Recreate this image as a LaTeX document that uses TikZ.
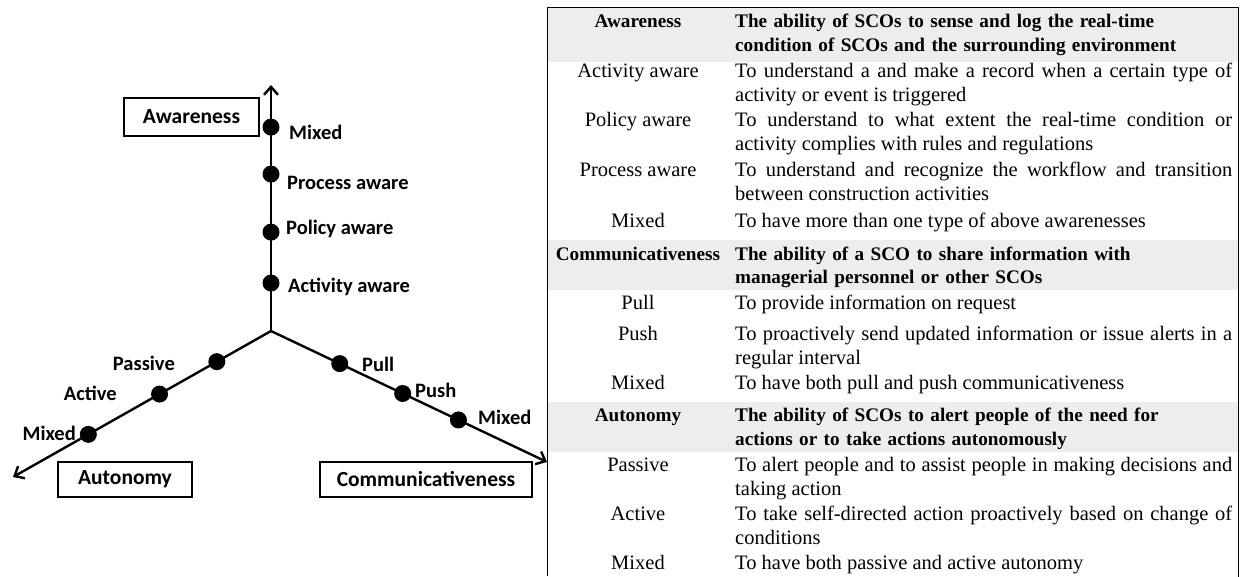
\documentclass[tikz,border=0pt]{standalone}
\usepackage{fontspec}
\setmainfont{Liberation Serif}
\newfontfamily\calib{Carlito}
\usepackage{tikz}
\usetikzlibrary{arrows.meta}
\usetikzlibrary{calc}
\colorlet{hdgray}{black!7}
\newcommand\tabfont{\fontsize{20.5}{24}\selectfont}
\newcommand\hdfont{\fontsize{19.2}{24}\selectfont\bfseries}
\tikzstyle{axis}=[line width=2.4pt,-{Straight Barb[length=8pt,width=14pt]}]
\tikzstyle{dot}=[circle,fill=black,minimum size=17pt,inner sep=0pt]
\tikzstyle{lbl}=[font=\calib\bfseries\fontsize{20.5}{22}\selectfont,inner sep=0pt]
\tikzstyle{catbox}=[draw,line width=1.2pt,inner sep=0pt,font=\calib\bfseries\fontsize{21.5}{22}\selectfont]
\tikzstyle{kind}=[inner sep=0pt,anchor=base,font=\tabfont]
\tikzstyle{kindhd}=[kind,font=\hdfont]
\tikzstyle{desc}=[inner sep=0pt,anchor=base west,text width=497pt,align=justify,font=\tabfont]
\tikzstyle{deschd}=[desc,align=left,font=\hdfont]
\begin{document}
\begin{tikzpicture}[x=1pt,y=-1pt]
	\useasboundingbox (0,0) rectangle (1241,577);
	% the three axes
	\coordinate (o)  at (271,331);
	\coordinate (aw) at (271,85);
	\coordinate (au) at (13,477);
	\coordinate (co) at (547,462);
	\draw[axis] (o) -- (aw);
	\draw[axis] (o) -- (au);
	\draw[axis] (o) -- (co);
	\node[catbox,minimum width=135pt,minimum height=38pt] (awbox) at (191.5,117) {Awareness};
	\node[catbox,minimum width=134pt,minimum height=35pt] (aubox) at (125,479.5) {Autonomy};
	\node[catbox,minimum width=212pt,minimum height=35pt] (cobox) at (426,479.5) {Communicativeness};
	% awareness levels
	\node[dot] (aw1) at ($(o)!0.195!(aw)$) {};
	\node[dot] (aw2) at ($(o)!0.402!(aw)$) {};
	\node[dot] (aw3) at ($(o)!0.638!(aw)$) {};
	\node[dot] (aw4) at ($(o)!0.829!(aw)$) {};
	\node[lbl,anchor=west] (aw1l) at (288,287) {Activity aware};
	\node[lbl,anchor=west] (aw2l) at (286,229) {Policy aware};
	\node[lbl,anchor=west] (aw3l) at (287,183) {Process aware};
	\node[lbl,anchor=west] (aw4l) at (289,132) {Mixed};
	% autonomy levels
	\node[dot] (au1) at ($(o)!0.21!(au)$) {};
	\node[dot] (au2) at ($(o)!0.432!(au)$) {};
	\node[dot] (au3) at ($(o)!0.708!(au)$) {};
	\node[lbl,anchor=east] (au1l) at (175,363) {Passive};
	\node[lbl,anchor=east] (au2l) at (117,393) {Active};
	\node[lbl,anchor=east] (au3l) at (76,433) {Mixed};
	% communicativeness levels
	\node[dot] (co1) at ($(o)!0.249!(co)$) {};
	\node[dot] (co2) at ($(o)!0.477!(co)$) {};
	\node[dot] (co3) at ($(o)!0.679!(co)$) {};
	\node[lbl,anchor=west] (co1l) at (362,364) {Pull};
	\node[lbl,anchor=west] (co2l) at (415,390) {Push};
	\node[lbl,anchor=west] (co3l) at (478,417) {Mixed};
	% the table
	\fill[hdgray] (547,8) rectangle (1238,62);
	\fill[hdgray] (547,240) rectangle (1238,290);
	\fill[hdgray] (547,402) rectangle (1238,452);
	\draw[line width=1pt] (547,576) |- (1238,8) -- (1238,577);
	\node[kindhd] (t1)  at (638,28)  {Awareness};
	\node[deschd] (d1)  at (735,28)  {The ability of SCOs to sense and log the real-time\\condition of SCOs and the surrounding environment};
	\node[kind]   (t2)  at (638,78)  {Activity aware};
	\node[desc]   (d2)  at (735,78)  {To understand a and make a record when a certain type of\linebreak activity or event is triggered};
	\node[kind]   (t3)  at (638,127) {Policy aware};
	\node[desc]   (d3)  at (735,127) {To understand to what extent the real-time condition or\linebreak activity complies with rules and regulations};
	\node[kind]   (t4)  at (638,177) {Process aware};
	\node[desc]   (d4)  at (735,177) {To understand and recognize the workflow and transition\linebreak between construction activities};
	\node[kind]   (t5)  at (638,228) {Mixed};
	\node[desc]   (d5)  at (735,228) {To have more than one type of above awarenesses};
	\node[kindhd] (t6)  at (638,260) {Communicativeness};
	\node[deschd] (d6)  at (735,260) {The ability of a SCO to share information with\\managerial personnel or other SCOs};
	\node[kind]   (t7)  at (638,309) {Pull};
	\node[desc]   (d7)  at (735,309) {To provide information on request};
	\node[kind]   (t8)  at (638,340) {Push};
	\node[desc]   (d8)  at (735,340) {To proactively send updated information or issue alerts in a\linebreak regular interval};
	\node[kind]   (t9)  at (638,389) {Mixed};
	\node[desc]   (d9)  at (735,389) {To have both pull and push communicativeness};
	\node[kindhd] (t10) at (638,421) {Autonomy};
	\node[deschd] (d10) at (735,421) {The ability of SCOs to alert people of the need for\\actions or to take actions autonomously};
	\node[kind]   (t11) at (638,471) {Passive};
	\node[desc]   (d11) at (735,471) {To alert people and to assist people in making decisions and\linebreak taking action};
	\node[kind]   (t12) at (638,520) {Active};
	\node[desc]   (d12) at (735,520) {To take self-directed action proactively based on change of\linebreak conditions};
	\node[kind]   (t13) at (638,569) {Mixed};
	\node[desc]   (d13) at (735,569) {To have both passive and active autonomy};
\end{tikzpicture}
\end{document}
